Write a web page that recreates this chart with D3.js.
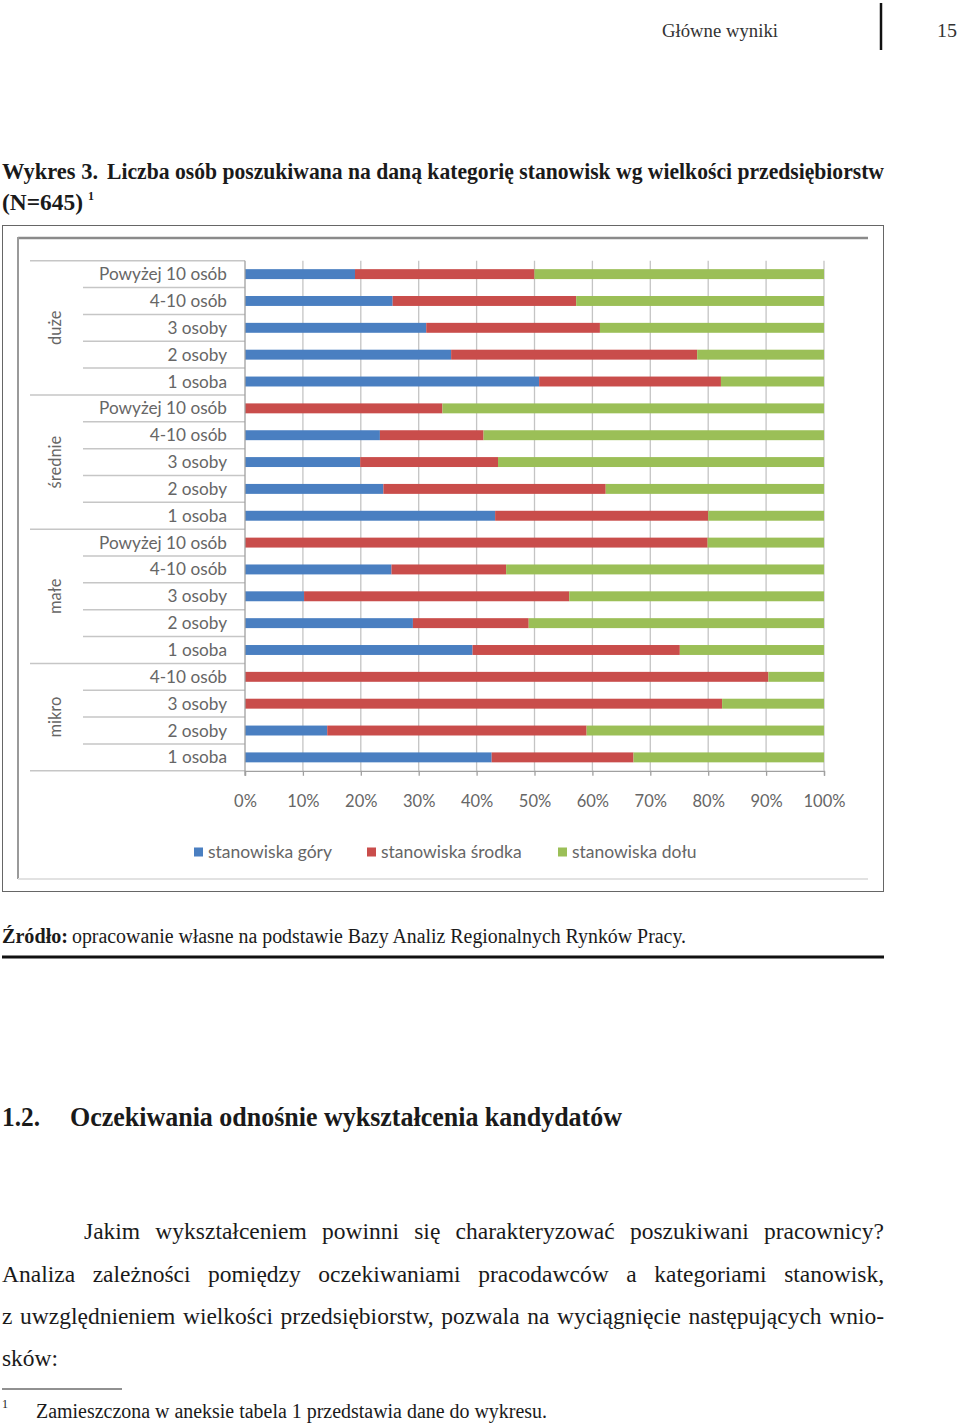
<!DOCTYPE html>
<html>
<head>
<meta charset="utf-8">
<script src="https://cdn.jsdelivr.net/npm/d3@7"></script>
<style>
  html, body { margin: 0; padding: 0; background: #fff; }
  svg { display: block; }
</style>
</head>
<body>
<svg id="page" width="960" height="1426"></svg>
<script>
// ---------------- DATA ----------------
const groups = ["duże", "średnie", "małe", "mikro"];
const rowLabels = [
  "Powyżej 10 osób", "4-10 osób", "3 osoby", "2 osoby", "1 osoba",
  "Powyżej 10 osób", "4-10 osób", "3 osoby", "2 osoby", "1 osoba",
  "Powyżej 10 osób", "4-10 osób", "3 osoby", "2 osoby", "1 osoba",
  "4-10 osób", "3 osoby", "2 osoby", "1 osoba"
];
const rowGroup = [0,0,0,0,0, 1,1,1,1,1, 2,2,2,2,2, 3,3,3,3];
const seriesNames = ["stanowiska góry", "stanowiska środka", "stanowiska dołu"];
const gory   = [19.0, 25.5, 31.3, 35.6, 50.8,  0.0, 23.3, 19.9, 23.9, 43.2,  0.0, 25.3, 10.2, 29.0, 39.3,  0.0,  0.0, 14.2, 42.6];
const srodka = [31.0, 31.7, 30.0, 42.5, 31.4, 34.1, 17.9, 23.8, 38.4, 36.8, 79.9, 19.8, 45.8, 20.0, 35.8, 90.4, 82.4, 44.8, 24.5];
const dolu   = [50.0, 42.8, 38.7, 21.9, 17.8, 65.9, 58.8, 56.3, 37.7, 20.0, 20.1, 54.9, 44.0, 51.0, 24.9,  9.6, 17.6, 41.0, 32.9];
const xTicks = [0, 10, 20, 30, 40, 50, 60, 70, 80, 90, 100];

// ---------------- PAGE ----------------
const svg = d3.select("#page");
const SERIF = "'Liberation Serif', 'DejaVu Serif', serif";
const SANS = "Lato, 'Open Sans', 'Liberation Sans', sans-serif";
const colors = ["#4a7fc1", "#c94d4b", "#9bbf57"];
const LABEL = "#666";

function fitText(g, str, x, y, width, opts) {
  const t = g.append("text")
    .attr("x", x).attr("y", y)
    .attr("font-family", opts.family || SERIF)
    .attr("font-size", opts.size)
    .attr("font-weight", opts.weight || "normal")
    .attr("fill", opts.fill || "#1a1a1a")
    .text(str);
  if (width) {
    t.attr("textLength", width).attr("lengthAdjust", "spacingAndGlyphs");
  }
  return t;
}

function justify(g, str, x0, x1, y, size) {
  const words = str.split(" ");
  const nodes = words.map(w => g.append("text")
    .attr("y", y).attr("font-family", SERIF).attr("font-size", size)
    .attr("fill", "#1a1a1a").text(w));
  const widths = nodes.map(n => n.node().getComputedTextLength());
  const sum = d3.sum(widths);
  const avail = x1 - x0;
  const minGap = size * 0.22;
  let scale = 1, gap;
  if (words.length === 1) { gap = 0; }
  else {
    gap = (avail - sum) / (words.length - 1);
    if (gap < minGap) {
      scale = (avail - minGap * (words.length - 1)) / sum;
      gap = minGap;
    }
  }
  let xx = x0;
  nodes.forEach((n, i) => {
    const w = widths[i] * scale;
    n.attr("x", xx);
    if (scale !== 1) n.attr("textLength", w).attr("lengthAdjust", "spacingAndGlyphs");
    xx += w + gap;
  });
}

// header
fitText(svg, "Główne wyniki", 662, 37, 116, {size: 19, fill: "#333"});
svg.append("line").attr("x1", 881).attr("x2", 881).attr("y1", 3).attr("y2", 50)
  .attr("stroke", "#111").attr("stroke-width", 2.5);
fitText(svg, "15", 937, 37, 20, {size: 19, fill: "#333"});

// title
fitText(svg, "Wykres 3.", 2, 179, 96, {size: 23, weight: "bold"});
fitText(svg, "Liczba osób poszukiwana na daną kategorię stanowisk wg wielkości przedsiębiorstw", 107, 179, 777, {size: 23, weight: "bold"});
fitText(svg, "(N=645)", 2, 210, 81, {size: 23, weight: "bold"});
fitText(svg, "1", 88, 200, null, {size: 12, weight: "bold"});

// outer box
svg.append("rect").attr("x", 2.5).attr("y", 225.5).attr("width", 881).attr("height", 666)
  .attr("fill", "none").attr("stroke", "#666").attr("stroke-width", 1);

// inner frame (chart image border)
svg.append("line").attr("x1", 18).attr("x2", 868).attr("y1", 238).attr("y2", 238)
  .attr("stroke", "#8a8a8a").attr("stroke-width", 2.5);
svg.append("line").attr("x1", 18).attr("x2", 18).attr("y1", 237).attr("y2", 879)
  .attr("stroke", "#9a9a9a").attr("stroke-width", 2);
svg.append("line").attr("x1", 18).attr("x2", 868).attr("y1", 879).attr("y2", 879)
  .attr("stroke", "#e2e2e2").attr("stroke-width", 2);

// ---------------- CHART ----------------
const chart = svg.append("g");
const topY = 260.7, bottomY = 770.8;
const x = d3.scaleLinear().domain([0, 100]).range([245, 824]);
const y = d3.scaleBand().domain(d3.range(rowLabels.length)).range([topY, bottomY])
  .paddingInner(0.63).paddingOuter(0.315);
const step = y.step();

// vertical gridlines
chart.append("g").selectAll("line").data(xTicks.slice(1)).join("line")
  .attr("x1", d => x(d)).attr("x2", d => x(d))
  .attr("y1", topY).attr("y2", bottomY)
  .attr("stroke", "#c4c4c4").attr("stroke-width", 1.3);

// category separators
const seps = d3.range(rowLabels.length + 1);
chart.append("g").selectAll("line").data(seps).join("line")
  .attr("x1", i => (i === 0 || i === rowLabels.length || rowGroup[i] !== rowGroup[i - 1]) ? 30 : 83)
  .attr("x2", x(0))
  .attr("y1", i => topY + i * step).attr("y2", i => topY + i * step)
  .attr("stroke", "#c6c6c6").attr("stroke-width", 1.5);

// bars
const stackData = rowLabels.map((l, i) => ({i, g: gory[i], s: srodka[i], d: dolu[i]}));
const stack = d3.stack().keys(["g", "s", "d"])(stackData);
chart.append("g").selectAll("g").data(stack).join("g")
  .attr("fill", (d, k) => colors[k])
  .selectAll("rect").data(d => d).join("rect")
  .attr("x", d => x(d[0]))
  .attr("width", d => Math.max(0, x(d[1]) - x(d[0])))
  .attr("y", d => y(d.data.i))
  .attr("height", y.bandwidth());

// x axis
const xAxis = chart.append("g").attr("transform", `translate(0,${bottomY})`)
  .call(d3.axisBottom(x).tickValues(xTicks).tickSize(5).tickFormat(d => d + "%").tickPadding(19));
xAxis.select(".domain").attr("stroke", "#a0a0a0").attr("stroke-width", 1.3);
xAxis.selectAll(".tick line").attr("stroke", "#a0a0a0").attr("stroke-width", 1.3);
xAxis.selectAll(".tick text").attr("font-family", SANS).attr("font-size", 16.5).attr("fill", LABEL);

// y axis line
chart.append("line").attr("x1", x(0)).attr("x2", x(0)).attr("y1", topY).attr("y2", bottomY + 5)
  .attr("stroke", "#a0a0a0").attr("stroke-width", 1.3);

// row labels
chart.append("g").selectAll("text").data(rowLabels).join("text")
  .attr("x", 227).attr("y", (d, i) => y(i) + y.bandwidth() / 2)
  .attr("dy", "0.35em").attr("text-anchor", "end")
  .attr("font-family", SANS).attr("font-size", 17.2).attr("fill", LABEL)
  .text(d => d);

// group labels
const groupRange = groups.map((g, gi) => {
  const idx = rowGroup.map((v, i) => v === gi ? i : -1).filter(i => i >= 0);
  return {g, y0: topY + idx[0] * step, y1: topY + (idx[idx.length - 1] + 1) * step};
});
chart.append("g").selectAll("text").data(groupRange).join("text")
  .attr("transform", d => `translate(55,${(d.y0 + d.y1) / 2}) rotate(-90)`)
  .attr("text-anchor", "middle").attr("dy", "0.35em")
  .attr("font-family", SANS).attr("font-size", 16.5).attr("fill", LABEL)
  .text(d => d.g);

// legend
const legendX = [194, 367, 558];
const legend = chart.append("g").selectAll("g").data(seriesNames).join("g")
  .attr("transform", (d, i) => `translate(${legendX[i]},852)`);
legend.append("rect").attr("x", 0).attr("y", -4.5).attr("width", 9).attr("height", 9)
  .attr("fill", (d, i) => colors[i]);
legend.append("text").attr("x", 14).attr("dy", "0.35em")
  .attr("font-family", SANS).attr("font-size", 17.5).attr("fill", LABEL)
  .text(d => d);

// ---------------- TEXT BELOW ----------------
fitText(svg, "Źródło:", 2, 943, 66, {size: 20, weight: "bold"});
fitText(svg, "opracowanie własne na podstawie Bazy Analiz Regionalnych Rynków Pracy.", 72, 943, 614, {size: 20});
svg.append("line").attr("x1", 2).attr("x2", 884).attr("y1", 957).attr("y2", 957)
  .attr("stroke", "#111").attr("stroke-width", 3);

fitText(svg, "1.2.", 2, 1126, 38, {size: 27, weight: "bold"});
fitText(svg, "Oczekiwania odnośnie wykształcenia kandydatów", 70, 1126, 552, {size: 27, weight: "bold"});

justify(svg, "Jakim wykształceniem powinni się charakteryzować poszukiwani pracownicy?", 84, 884, 1239, 23.5);
justify(svg, "Analiza zależności pomiędzy oczekiwaniami pracodawców a kategoriami stanowisk,", 2, 884, 1282, 23.5);
justify(svg, "z uwzględnieniem wielkości przedsiębiorstw, pozwala na wyciągnięcie następujących wnio-", 2, 884, 1324, 23.5);
fitText(svg, "sków:", 2, 1366, 56, {size: 23.5});

svg.append("line").attr("x1", 2).attr("x2", 122).attr("y1", 1389).attr("y2", 1389)
  .attr("stroke", "#222").attr("stroke-width", 1);
fitText(svg, "1", 2, 1408, null, {size: 12});
fitText(svg, "Zamieszczona w aneksie tabela 1 przedstawia dane do wykresu.", 36, 1418, 511, {size: 20});
</script>
</body>
</html>
